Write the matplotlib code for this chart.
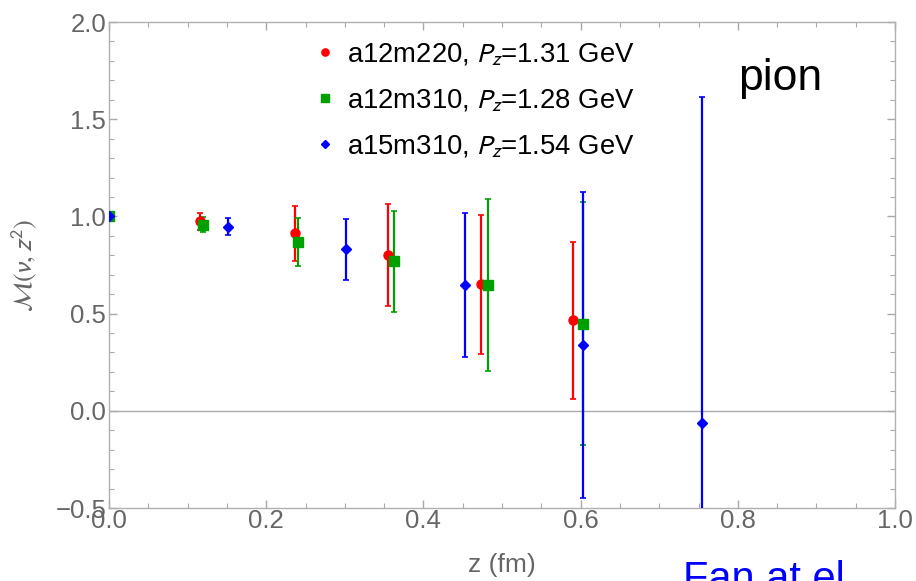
import matplotlib
matplotlib.use("Agg")
import matplotlib.pyplot as plt
from matplotlib.ticker import MultipleLocator, FuncFormatter

plt.rcParams['font.family'] = ['Liberation Sans', 'DejaVu Sans']
plt.rcParams['mathtext.fontset'] = 'stixsans'

# Data
x_a12m220 = [0.0, 0.116, 0.237, 0.355, 0.473, 0.590]
y_a12m220 = [1.0, 0.974, 0.914, 0.802, 0.650, 0.466]
e_a12m220 = [0.0, 0.044, 0.142, 0.262, 0.357, 0.404]

x_a12m310 = [0.0, 0.120, 0.241, 0.362, 0.482, 0.603]
y_a12m310 = [1.0, 0.958, 0.869, 0.770, 0.648, 0.447]
e_a12m310 = [0.0, 0.039, 0.124, 0.260, 0.442, 0.625]

x_a15m310 = [0.0, 0.151, 0.302, 0.453, 0.603, 0.754]
y_a15m310 = [1.0, 0.947, 0.830, 0.648, 0.340, -0.062]
e_a15m310 = [0.0, 0.043, 0.157, 0.370, 0.787, 1.677]

labels = [r'a12m220, $P_z$=1.31 GeV', r'a12m310, $P_z$=1.28 GeV', r'a15m310, $P_z$=1.54 GeV']
colors = ['#ff0000', '#00a000', '#0000ff']

fig = plt.figure(figsize=(9.16, 5.81), dpi=100)
ax = fig.add_axes([109/916, 1-508/581, (895-109)/916, (508-22)/581])

ax.axhline(0, color='#aaaaaa', lw=1.0, zorder=1)

series = [(x_a12m220, y_a12m220, e_a12m220, 'o', 6.5),
          (x_a12m310, y_a12m310, e_a12m310, 's', 6.5),
          (x_a15m310, y_a15m310, e_a15m310, 'D', 5.0)]
handles = []
for (xs, ys, es, m, ms), c, lab in zip(series, colors, labels):
    h = ax.errorbar(xs, ys, yerr=es, fmt=m, color=c, ms=ms, mec=c, elinewidth=1.6,
                    capsize=2.5, capthick=1.2, label=lab, zorder=3)
    handles.append(h)

ax.set_xlim(0, 1.0)
ax.set_ylim(-0.5, 2.0)
ax.xaxis.set_major_locator(MultipleLocator(0.2))
ax.xaxis.set_minor_locator(MultipleLocator(0.05))
ax.yaxis.set_major_locator(MultipleLocator(0.5))
ax.yaxis.set_minor_locator(MultipleLocator(0.1))
fmt = FuncFormatter(lambda v, p: ('%.1f' % v).replace('-', '\u2212'))
ax.xaxis.set_major_formatter(fmt)
ax.yaxis.set_major_formatter(fmt)
ax.tick_params(which='both', direction='in', top=True, right=True, color='#aaaaaa',
               labelcolor='#666666', labelsize=18.5)
ax.tick_params(which='major', length=6, width=1)
ax.tick_params(which='minor', length=3.5, width=0.8)
ax.tick_params(axis='x', which='major', pad=1)
ax.tick_params(axis='y', which='major', pad=2)
for s in ax.spines.values():
    s.set_color('#b0b0b0')
    s.set_linewidth(1.0)

ax.set_xlabel('z (fm)', fontsize=19, color='#666666')
ax.xaxis.set_label_coords(0.5, (508-553)/486)
ax.set_ylabel(r'$\mathcal{M}(\nu,z^2)$', fontsize=19, color='#666666', va='center')
ax.yaxis.set_label_coords((24-109)/786, (508-265)/486)

leg = ax.legend(handles=[h[0] for h in handles], labels=labels, loc='upper left',
                bbox_to_anchor=((292-109)/786, 1-(17-22)/486), frameon=False, fontsize=19.8,
                handlelength=0.6, handletextpad=0.5, labelspacing=0.72, markerscale=0.8,
                borderpad=0.4)

fig.text(738/916, 1-90/581, 'pion', fontsize=32, color='black', va='baseline', ha='left')
fig.text(683/916, 1-560/581, 'Fan at el', fontsize=30, color='#0000ff', va='top', ha='left')

fig.savefig('out.png', dpi=100)
